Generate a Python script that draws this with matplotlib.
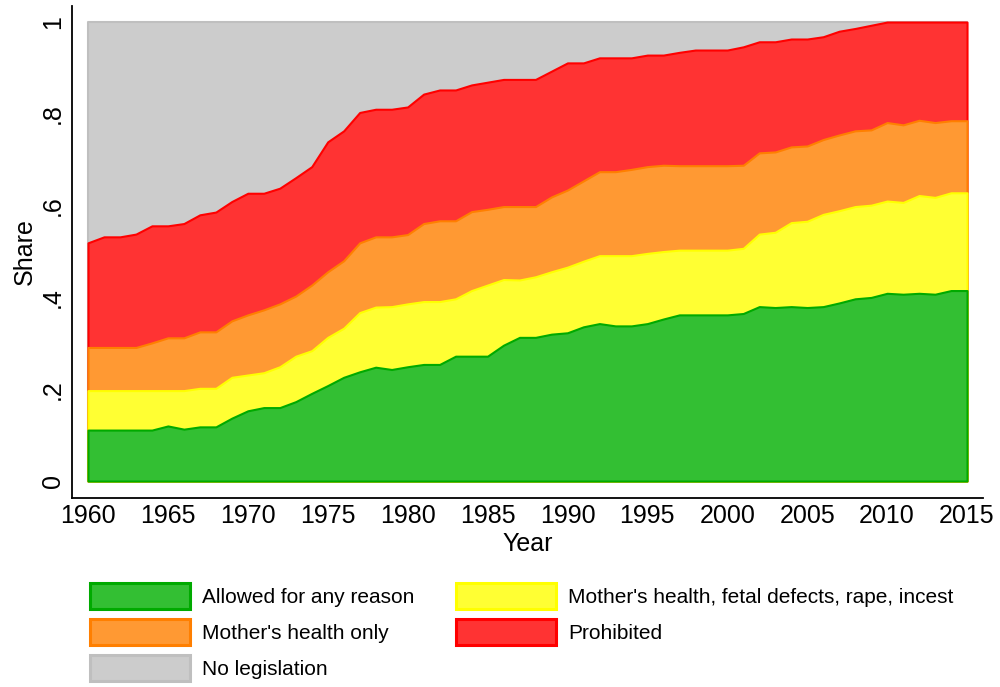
"""
Stacked share of countries by abortion legislation, 1960-2015
"""

import matplotlib.pyplot as plt
from matplotlib.patches import Patch
import numpy as np

plt.rcParams["font.family"] = ["Liberation Sans", "DejaVu Sans"]

years = np.arange(1960, 2016)

# upper boundary of each band (cumulative share)
top_allowed = [
    0.111, 0.111, 0.111, 0.111, 0.111, 0.120, 0.113, 0.118, 0.118, 0.137,
    0.153, 0.160, 0.160, 0.173, 0.191, 0.208, 0.226, 0.238, 0.248, 0.243,
    0.249, 0.254, 0.254, 0.272, 0.272, 0.272, 0.296, 0.313, 0.313, 0.320,
    0.323, 0.336, 0.343, 0.338, 0.338, 0.343, 0.353, 0.362, 0.362, 0.362,
    0.362, 0.365, 0.380, 0.378, 0.380, 0.378, 0.380, 0.388, 0.397, 0.400,
    0.409, 0.407, 0.409, 0.407, 0.415, 0.415,
]
top_fetal = [
    0.197, 0.197, 0.197, 0.197, 0.197, 0.197, 0.197, 0.202, 0.202, 0.226,
    0.231, 0.236, 0.249, 0.272, 0.284, 0.313, 0.333, 0.367, 0.379, 0.380,
    0.386, 0.391, 0.391, 0.397, 0.415, 0.427, 0.439, 0.438, 0.445, 0.456,
    0.466, 0.479, 0.491, 0.491, 0.491, 0.496, 0.500, 0.503, 0.503, 0.503,
    0.503, 0.507, 0.538, 0.542, 0.563, 0.566, 0.581, 0.589, 0.598, 0.601,
    0.610, 0.607, 0.622, 0.618, 0.628, 0.628,
]
top_health = [
    0.291, 0.291, 0.291, 0.291, 0.301, 0.312, 0.312, 0.325, 0.325, 0.349,
    0.362, 0.373, 0.386, 0.403, 0.427, 0.456, 0.480, 0.519, 0.532, 0.532,
    0.537, 0.561, 0.567, 0.567, 0.587, 0.592, 0.598, 0.598, 0.598, 0.619,
    0.634, 0.654, 0.674, 0.674, 0.679, 0.685, 0.688, 0.687, 0.687, 0.687,
    0.687, 0.688, 0.715, 0.717, 0.728, 0.730, 0.744, 0.754, 0.763, 0.765,
    0.781, 0.776, 0.786, 0.781, 0.785, 0.785,
]
top_prohibited = [
    0.519, 0.532, 0.532, 0.538, 0.556, 0.556, 0.561, 0.580, 0.586, 0.609,
    0.627, 0.627, 0.638, 0.661, 0.685, 0.739, 0.763, 0.803, 0.810, 0.810,
    0.815, 0.843, 0.852, 0.852, 0.863, 0.869, 0.875, 0.875, 0.875, 0.893,
    0.911, 0.911, 0.922, 0.922, 0.922, 0.928, 0.928, 0.934, 0.939, 0.939,
    0.939, 0.946, 0.957, 0.957, 0.963, 0.963, 0.968, 0.980, 0.986, 0.993,
    1.000, 1.000, 1.000, 1.000, 1.000, 1.000,
]
top_nolegis = [1.0] * 56

# drawn back to front, each area from zero (as stata does)
PLOT_DICT = {
    "nolegis": {"data": top_nolegis, "label": "No legislation",
                "line": "#bfbfbf", "fill": "#cccccc"},
    "prohibited": {"data": top_prohibited, "label": "Prohibited",
                   "line": "#ff0000", "fill": "#ff3333"},
    "health": {"data": top_health, "label": "Mother's health only",
               "line": "#ff7f00", "fill": "#ff9933"},
    "fetal": {"data": top_fetal,
              "label": "Mother's health, fetal defects, rape, incest",
              "line": "#ffff00", "fill": "#ffff33"},
    "allowed": {"data": top_allowed, "label": "Allowed for any reason",
                "line": "#00aa00", "fill": "#33bf33"},
}

fig = plt.figure(figsize=(10, 6.87), dpi=100)
ax = fig.add_axes([0.072, 0.2751, 0.911, 0.7162])

for key, info in PLOT_DICT.items():
    ax.fill_between(
        years,
        0,
        info["data"],
        facecolor=info["fill"],
        edgecolor=info["line"],
        linewidth=1.5,
    )

ax.set_xlim(1959.0, 2016.0)
ax.set_ylim(-0.037, 1.035)

ax.set_xticks(np.arange(1960, 2016, 5))
ax.set_yticks([0, 0.2, 0.4, 0.6, 0.8, 1.0])
ax.set_yticklabels(["0", ".2", ".4", ".6", ".8", "1"], rotation=90, va="center")
ax.tick_params(axis="both", length=0, labelsize=18)
ax.tick_params(axis="x", pad=4)
ax.tick_params(axis="y", pad=5)

for side in ["top", "right"]:
    ax.spines[side].set_visible(False)
for side in ["left", "bottom"]:
    ax.spines[side].set_linewidth(1.3)

ax.set_xlabel("Year", fontsize=18, labelpad=3)
ax.set_ylabel("Share", fontsize=18, labelpad=3)

# legend: two columns, column-major order
order = ["allowed", "health", "nolegis", "fetal", "prohibited"]
handles = [
    Patch(facecolor=PLOT_DICT[k]["fill"], edgecolor=PLOT_DICT[k]["line"],
          linewidth=2.2, label=PLOT_DICT[k]["label"])
    for k in order
]
fig.legend(
    handles=handles,
    loc="upper left",
    bbox_to_anchor=(0.09, 0.151),
    ncol=2,
    frameon=False,
    fontsize=15,
    borderpad=0,
    borderaxespad=0,
    handlelength=4.8,
    handleheight=1.56,
    handletextpad=0.6,
    labelspacing=0.46,
    columnspacing=1.95,
)

plt.savefig("out.png", dpi=100)
